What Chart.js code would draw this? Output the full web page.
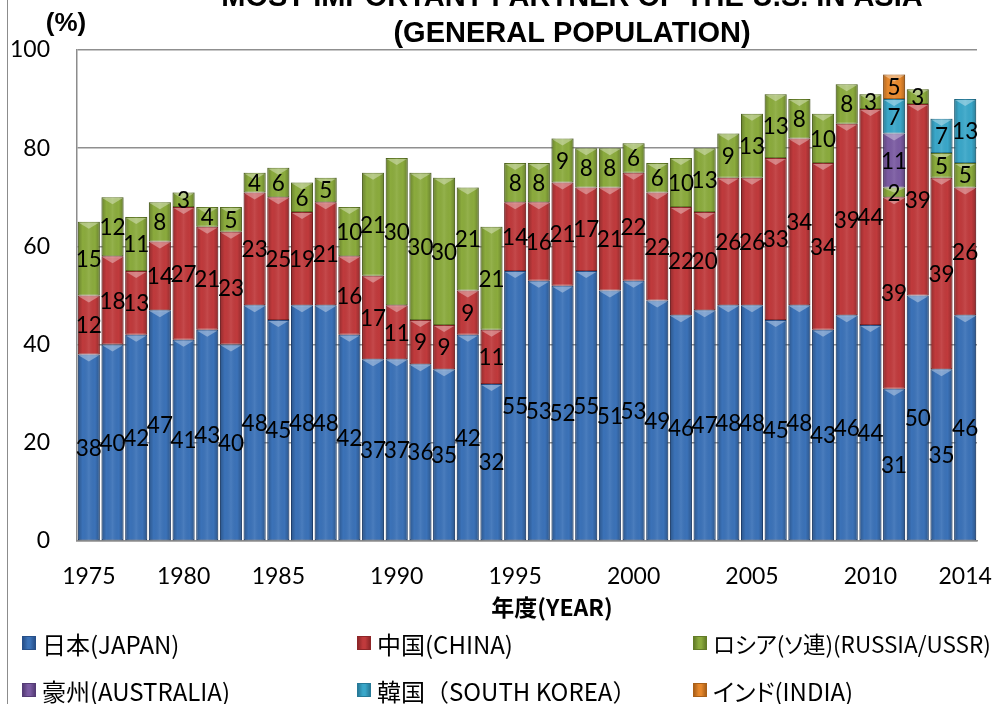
<!DOCTYPE html>
<html><head><meta charset="utf-8">
<script src="https://cdn.jsdelivr.net/npm/chart.js@4.4.0/dist/chart.umd.min.js"></script>
<style>
html,body{margin:0;padding:0;background:#fff;}
#wrap{position:relative;width:1004px;height:704px;overflow:hidden;background:#fff;}
#c{position:absolute;left:0;top:0;}
#frame{position:absolute;left:7px;top:0;width:1px;height:704px;background:#8c8c8c;}
.leg{position:absolute;height:30px;font-family:"Noto Sans CJK JP",sans-serif;font-size:24px;color:#000;white-space:nowrap;display:flex;align-items:center;}
.leg.p{font-feature-settings:"palt";}
.sw{width:14px;height:14px;margin-right:6px;box-sizing:border-box;border:1px solid;}
</style></head>
<body><div id="wrap"><canvas id="c" width="1004" height="704"></canvas><div id="frame"></div><div id="legend"></div></div>
<script>
const years = [1975,1976,1977,1978,1980,1981,1982,1983,1985,1986,1987,1988,1989,1990,1991,1992,1993,1994,1995,1996,1997,1998,1999,2000,2001,2002,2003,2004,2005,2006,2007,2008,2009,2010,2011,2012,2013,2014];
const tickYears = [1975,1980,1985,1990,1995,2000,2005,2010,2014];
const yTicks = [0,20,40,60,80,100];

const japan     = [38,40,42,47,41,43,40,48,45,48,48,42,37,37,36,35,42,32,55,53,52,55,51,53,49,46,47,48,48,45,48,43,46,44,31,50,35,46];
const china     = [12,18,13,14,27,21,23,23,25,19,21,16,17,11,9,9,9,11,14,16,21,17,21,22,22,22,20,26,26,33,34,34,39,44,39,39,39,26];
const russia    = [15,12,11,8,3,4,5,4,6,6,5,10,21,30,30,30,21,21,8,8,9,8,8,6,6,10,13,9,13,13,8,10,8,3,2,3,5,5];
const australia = [null,null,null,null,null,null,null,null,null,null,null,null,null,null,null,null,null,null,null,null,null,null,null,null,null,null,null,null,null,null,null,null,null,null,11,null,null,null];
const korea     = [null,null,null,null,null,null,null,null,null,null,null,null,null,null,null,null,null,null,null,null,null,null,null,null,null,null,null,null,null,null,null,null,null,null,7,null,7,13];
const india     = [null,null,null,null,null,null,null,null,null,null,null,null,null,null,null,null,null,null,null,null,null,null,null,null,null,null,null,null,null,null,null,null,null,null,5,null,null,null];

const seriesNames  = ['日本(JAPAN)','中国(CHINA)','ロシア(ソ連)(RUSSIA/USSR)','豪州(AUSTRALIA)','韓国（SOUTH KOREA）','インド(INDIA)'];
const seriesData   = [japan, china, russia, australia, korea, india];
const seriesColors = ['#3b72b8','#c03a3c','#8bab3d','#7b5ba2','#3aa7c9','#e7882c'];
const seriesEdges  = ['#27508a','#8e2628','#637c28','#553c76','#277a98','#aa6019'];

const titleLines = ['MOST IMPORTANT PARTNER OF THE U.S. IN ASIA','(GENERAL POPULATION)'];
const yUnit = '(%)';
const xTitle = '年度(YEAR)';

const decor = {
  id:'decor',
  afterDatasetsDraw(chart){
    const ctx = chart.ctx;
    ctx.save();
    chart.data.datasets.forEach((ds, di) => {
      const meta = chart.getDatasetMeta(di);
      meta.data.forEach((el, i) => {
        if (ds.data[i] == null) return;
        const p = el.getProps(['x','y','base','width'], true);
        const l = p.x - p.width/2, r = p.x + p.width/2;
        const top = Math.min(p.y, p.base), bot = Math.max(p.y, p.base);
        const g = ctx.createLinearGradient(l, 0, r, 0);
        g.addColorStop(0, 'rgba(0,0,0,0.25)');
        g.addColorStop(0.22, 'rgba(0,0,0,0.0)');
        g.addColorStop(0.5, 'rgba(255,255,255,0.08)');
        g.addColorStop(0.78, 'rgba(0,0,0,0.0)');
        g.addColorStop(1, 'rgba(0,0,0,0.25)');
        ctx.fillStyle = g;
        ctx.fillRect(l, top, p.width, bot - top);
        const th = Math.min(7, (bot - top) / 2);
        ctx.beginPath();
        ctx.moveTo(l + 1, top + 1);
        ctx.lineTo(r - 1, top + 1);
        ctx.lineTo(p.x, top + th);
        ctx.closePath();
        ctx.fillStyle = 'rgba(255,255,255,0.35)';
        ctx.fill();
      });
    });
    ctx.fillStyle = '#000';
    ctx.font = '22.5px Lato';
    ctx.textAlign = 'center';
    ctx.textBaseline = 'middle';
    chart.data.datasets.forEach((ds, di) => {
      const meta = chart.getDatasetMeta(di);
      meta.data.forEach((el, i) => {
        const v = ds.data[i];
        if (v == null) return;
        const p = el.getProps(['x','y','base'], true);
        ctx.fillText(String(v), p.x, (p.y + p.base) / 2 + 1);
      });
    });
    ctx.restore();
  },
  afterDraw(chart){
    const ctx = chart.ctx;
    ctx.save();
    ctx.fillStyle = '#000';
    ctx.textAlign = 'center';
    ctx.textBaseline = 'alphabetic';
    ctx.font = 'bold 29px "Liberation Sans"';
    ctx.fillText(titleLines[0], 572, 6);
    ctx.fillText(titleLines[1], 572, 42);
    ctx.font = 'bold 26px "Liberation Sans"';
    ctx.fillText(yUnit, 66, 31);
    ctx.font = 'bold 23px "Noto Sans CJK JP"';
    ctx.textBaseline = 'middle';
    ctx.fillText(xTitle, 552, 607);
    ctx.restore();
  }
};

new Chart(document.getElementById('c'), {
  type:'bar',
  data:{
    labels: years,
    datasets: seriesNames.map((n, k) => ({
      label: n,
      data: seriesData[k],
      backgroundColor: seriesColors[k],
      borderColor: seriesEdges[k],
      borderWidth: 1,
      borderSkipped: false,
      categoryPercentage: 1.0,
      barPercentage: 0.93
    }))
  },
  options:{
    responsive:false,
    animation:false,
    layout:{padding:{top:50,right:27,left:0,bottom:0}},
    plugins:{legend:{display:false},title:{display:false},tooltip:{enabled:false}},
    scales:{
      x:{
        stacked:true,
        grid:{display:false, drawTicks:false},
        border:{display:true, color:'#8c8c8c', width:1.5},
        ticks:{
          autoSkip:false, maxRotation:0, padding:22, color:'#000',
          font:{family:'Lato', size:23},
          callback(v, i){ return tickYears.includes(years[i]) ? String(years[i]) : ''; }
        },
        afterFit(s){ s.height = 163; s.paddingLeft = 0; s.paddingRight = 0; }
      },
      y:{
        stacked:true, min:0, max:100,
        afterBuildTicks(s){ s.ticks = yTicks.map(v => ({value:v})); },
        grid:{color:'#8f8f8f', lineWidth:1.5, drawTicks:false},
        border:{display:true, color:'#8c8c8c', width:1.5},
        ticks:{padding:27, color:'#000', font:{family:'Lato', size:23}},
        afterFit(s){ s.width = 77; s.paddingTop = 0; s.paddingBottom = 0; }
      }
    }
  },
  plugins:[decor]
});

const legendPos = [[22,628],[357,628],[693,628],[22,675],[357,675],[693,675]];
const legendFont = [24,24,22.5,24,24,24];
const lg = document.getElementById('legend');
seriesNames.forEach((n, k) => {
  const d = document.createElement('div');
  d.className = 'leg' + (k === 2 || k === 5 ? ' p' : '');
  d.style.left = legendPos[k][0] + 'px';
  d.style.top = legendPos[k][1] + 'px';
  d.style.fontSize = legendFont[k] + 'px';
  const s = document.createElement('span');
  s.className = 'sw';
  s.style.background = 'linear-gradient(to right,' + seriesEdges[k] + ',' + seriesColors[k] + ' 40%,' + seriesColors[k] + ' 60%,' + seriesEdges[k] + ')';
  s.style.borderColor = seriesEdges[k];
  d.appendChild(s);
  d.appendChild(document.createTextNode(n));
  lg.appendChild(d);
});
</script>
</body></html>
